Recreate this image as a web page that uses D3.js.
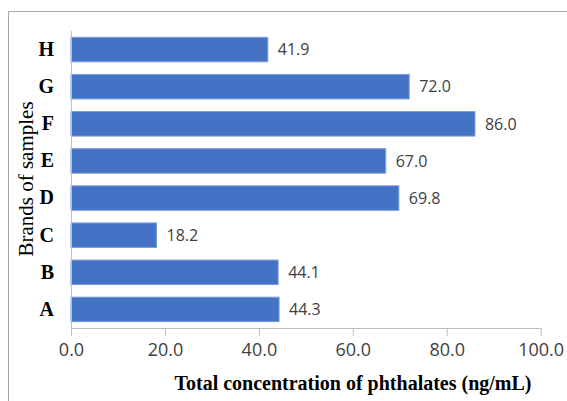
<!DOCTYPE html>
<html>
<head>
<meta charset="utf-8">
<script src="https://cdn.jsdelivr.net/npm/d3@7"></script>
<style>
  html, body { margin: 0; padding: 0; background: #fff; }
  svg { display: block; }
</style>
</head>
<body>
<svg id="chart" width="567" height="401"></svg>
<script>
// Sample brands, bottom to top, and their total phthalate concentration (ng/mL)
const brands = ["A", "B", "C", "D", "E", "F", "G", "H"];
const totals = [44.3, 44.1, 18.2, 69.8, 67.0, 86.0, 72.0, 41.9];
const xTicks = [0, 20, 40, 60, 80, 100];

const xTitle = "Total concentration of phthalates (ng/mL)";
const yTitle = "Brands of samples";

const svg = d3.select("#chart");
const plot = { left: 71, right: 540.7, top: 31, bottom: 328 };

// Outer chart frame (open on the right and bottom)
svg.append("path")
  .attr("d", `M8.5,401 V11.5 H567`)
  .attr("fill", "none")
  .attr("stroke", "#a6a6a6")
  .attr("stroke-width", 1);

const x = d3.scaleLinear().domain([0, 100]).range([plot.left, plot.right]);
const y = d3.scaleBand()
  .domain(brands.slice().reverse())
  .range([plot.top, plot.bottom])
  .paddingInner(0.34)
  .paddingOuter(0.17);

const rows = brands.map((b, i) => ({ brand: b, value: totals[i] }));

// Bars
svg.append("g")
  .selectAll("rect")
  .data(rows)
  .join("rect")
  .attr("x", x(0))
  .attr("y", d => y(d.brand))
  .attr("width", d => x(d.value) - x(0))
  .attr("height", y.bandwidth())
  .attr("fill", "#4472c4")
  .attr("stroke", "#7b9cd9")
  .attr("stroke-width", 1);

// Value labels
svg.append("g")
  .selectAll("text")
  .data(rows)
  .join("text")
  .attr("x", d => x(d.value) + 10)
  .attr("y", d => y(d.brand) + y.bandwidth() / 2)
  .attr("dy", "0.36em")
  .attr("font-family", "'Open Sans', sans-serif")
  .attr("font-size", 16)
  .attr("fill", "#404040")
  .text(d => d.value.toFixed(1));

// X axis
const xAxis = d3.axisBottom(x)
  .tickValues(xTicks)
  .tickFormat(d3.format(".1f"))
  .tickSize(8)
  .tickPadding(7);

const gx = svg.append("g")
  .attr("transform", `translate(0,${plot.bottom})`)
  .call(xAxis);
gx.select(".domain").attr("stroke", "#bfbfbf").attr("d", `M${plot.left},0.5H${plot.right}`);
gx.selectAll(".tick line").attr("stroke", "#bfbfbf");
gx.selectAll(".tick text")
  .attr("font-family", "'Open Sans', sans-serif")
  .attr("font-size", 18)
  .attr("fill", "#404040");

// Y axis
const yAxis = d3.axisLeft(y).tickSize(0).tickPadding(17);
const gy = svg.append("g")
  .attr("transform", `translate(${plot.left},0)`)
  .call(yAxis);
gy.select(".domain").attr("stroke", "#bfbfbf").attr("d", `M0.5,${plot.top}V${plot.bottom}`);
gy.selectAll(".tick text")
  .attr("font-family", "'Liberation Serif', 'Times New Roman', serif")
  .attr("font-weight", "bold")
  .attr("font-size", 20)
  .attr("fill", "#000");

// Axis titles
svg.append("text")
  .attr("x", 353)
  .attr("y", 390)
  .attr("text-anchor", "middle")
  .attr("font-family", "'Liberation Serif', 'Times New Roman', serif")
  .attr("font-weight", "bold")
  .attr("font-size", 20)
  .attr("fill", "#000")
  .text(xTitle);

svg.append("text")
  .attr("transform", `translate(33,179) rotate(-90)`)
  .attr("text-anchor", "middle")
  .attr("font-family", "'Liberation Serif', 'Times New Roman', serif")
  .attr("font-size", 21)
  .attr("fill", "#000")
  .text(yTitle);
</script>
</body>
</html>
